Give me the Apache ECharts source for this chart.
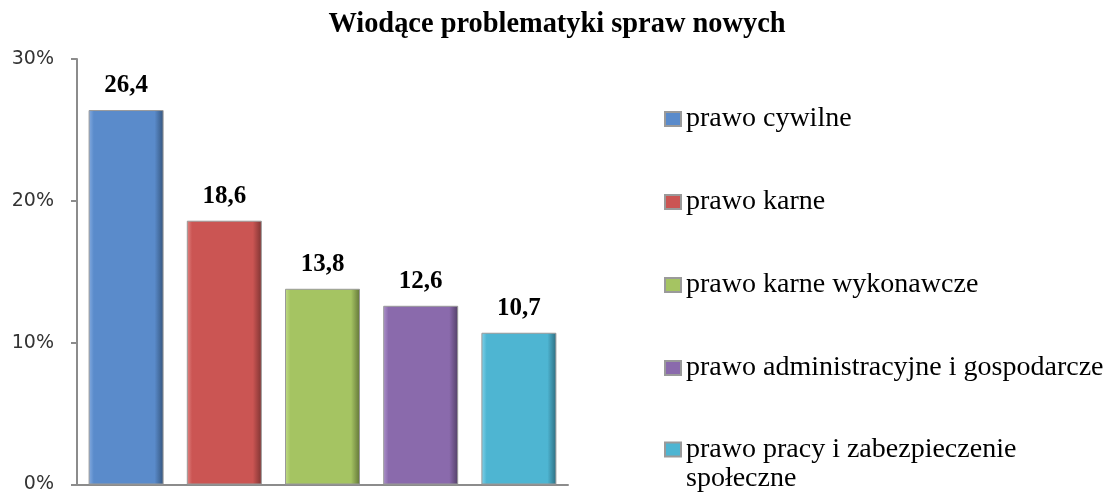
<!DOCTYPE html>
<html>
<head>
<meta charset="utf-8">
<script src="https://cdn.jsdelivr.net/npm/echarts@6/dist/echarts.min.js"></script>
<style>html,body{margin:0;padding:0;background:#fff}#c{width:1114px;height:494px}</style>
</head>
<body>
<div id="c"></div>
<script>
var titleText = 'Wiodące problematyki spraw nowych';
var categories = ['prawo cywilne', 'prawo karne', 'prawo karne wykonawcze', 'prawo administracyjne i gospodarcze', 'prawo pracy i zabezpieczenie społeczne'];
var values = [26.4, 18.6, 13.8, 12.6, 10.7];
var yTicks = [0, 10, 20, 30];
var baseColors = ['#5A8BCB', '#CB5553', '#A5C462', '#8A6AAC', '#4EB5D2'];
var darkColors = ['#34547c', '#7c3332', '#627538', '#523f66', '#2d6d80'];
var lightColors = ['#86ace0', '#e08684', '#c2dc88', '#ad92cc', '#82d3ea'];

function grad(i) {
  return new echarts.graphic.LinearGradient(0, 0, 1, 0, [
    {offset: 0, color: lightColors[i]},
    {offset: 0.07, color: baseColors[i]},
    {offset: 0.88, color: baseColors[i]},
    {offset: 1, color: darkColors[i]}
  ]);
}

var series = categories.map(function (name, i) {
  return {
    name: name,
    type: 'bar',
    barWidth: 75,
    barGap: '-100%',
    data: values.map(function (v, j) { return j === i ? v : '-'; }),
    itemStyle: {color: grad(i), borderColor: '#9a9a9a', borderWidth: 1},
    label: {
      show: true,
      position: 'top',
      distance: 12,
      fontFamily: 'Liberation Serif',
      fontWeight: 'bold',
      fontSize: 25,
      color: '#000',
      formatter: function (p) { return String(p.value).replace('.', ','); }
    }
  };
});

var legendBase = {
  orient: 'vertical',
  left: 659,
  height: 700,
  itemWidth: 16,
  itemHeight: 14,
  itemGap: 55,
  icon: 'rect',
  textStyle: {fontFamily: 'Liberation Serif', fontSize: 28, lineHeight: 28, color: '#000'}
};

var chart = echarts.init(document.getElementById('c'));
chart.setOption({
  animation: false,
  title: {
    text: titleText,
    left: 552,
    textAlign: 'center',
    top: 6,
    textStyle: {fontFamily: 'Liberation Serif', fontWeight: 'bold', fontSize: 28.4, color: '#000'}
  },
  legend: [
    Object.assign({}, legendBase, {top: 100, data: categories.slice(0, 4)}),
    Object.assign({}, legendBase, {
      top: 401,
      data: categories.slice(4),
      textStyle: {fontFamily: 'Liberation Serif', fontSize: 28, lineHeight: 29, color: '#000'},
      formatter: function () { return '\u00a0\nprawo pracy i zabezpieczenie\nspołeczne'; }
    })
  ],
  grid: {left: 77, right: 546, top: 59, bottom: 6},
  xAxis: {
    type: 'category',
    data: categories,
    axisLabel: {show: false},
    axisTick: {show: false},
    axisLine: {lineStyle: {color: '#8c8c8c', width: 2}}
  },
  yAxis: {
    type: 'value',
    min: yTicks[0],
    max: yTicks[yTicks.length - 1],
    interval: 10,
    splitLine: {show: false},
    axisLine: {show: true, lineStyle: {color: '#8c8c8c', width: 2}},
    axisTick: {show: true, length: 6, lineStyle: {color: '#8c8c8c', width: 2}},
    axisLabel: {
      fontFamily: 'DejaVu Sans',
      fontSize: 19,
      color: '#333',
      margin: 23,
      formatter: '{value}%'
    }
  },
  series: series
});
</script>
</body>
</html>
